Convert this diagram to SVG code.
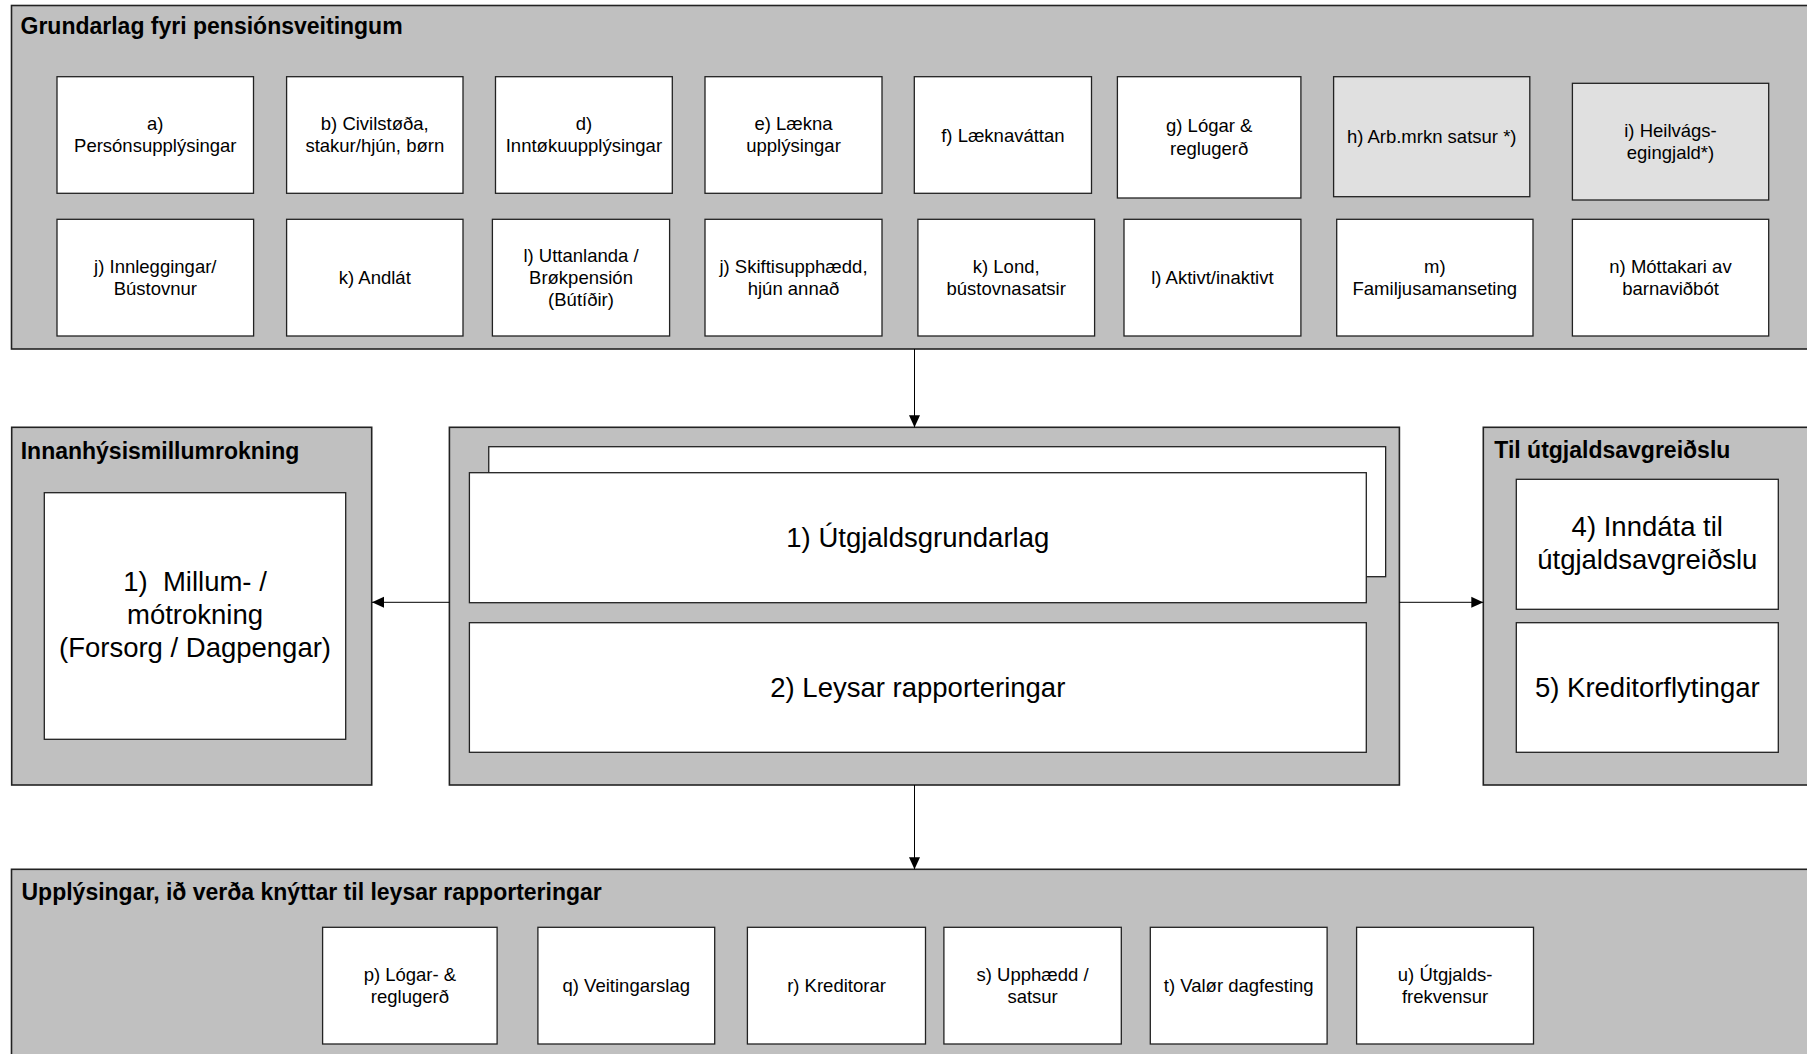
<svg xmlns="http://www.w3.org/2000/svg" width="1807" height="1054" viewBox="0 0 1807 1054">
<defs>
<style>
.cont{fill:#c0c0c0;stroke:#222;stroke-width:1.6}
.box{fill:#fff;stroke:#222;stroke-width:1.3}
.gbox{fill:#e0e0e0;stroke:#222;stroke-width:1.3}
.head{font-family:"Liberation Sans",Arial,sans-serif;font-weight:bold;font-size:23px;fill:#000}
.lbl{font-family:"Liberation Sans",Arial,sans-serif;font-size:18.5px;fill:#000;text-anchor:middle}
.big{font-family:"Liberation Sans",Arial,sans-serif;font-size:27.5px;fill:#000;text-anchor:middle}
.conn{stroke:#000;stroke-width:1;fill:none}
</style>
<marker id="arr" viewBox="0 0 12 12" refX="12" refY="6" markerWidth="12" markerHeight="12" markerUnits="userSpaceOnUse" orient="auto">
<path d="M0,0.5 L12,6 L0,11.5 Z" fill="#000"/>
</marker>
</defs>
<rect width="1807" height="1054" fill="#fff"/>

<g id="grundarlag">
<rect class="cont" x="11.5" y="5.5" width="1820" height="343.5"/>
<text class="head" x="20.5" y="34">Grundarlag fyri pensiónsveitingum</text>
</g>
<g id="node-a"><rect class="box" x="57" y="76.7" width="196.5" height="116.6"/><text class="lbl" x="155.3" y="130">a)</text><text class="lbl" x="155.3" y="152.2">Persónsupplýsingar</text></g>
<g id="node-b"><rect class="box" x="286.6" y="76.7" width="176.4" height="116.6"/><text class="lbl" x="374.8" y="130">b) Civilstøða,</text><text class="lbl" x="374.8" y="152.2">stakur/hjún, børn</text></g>
<g id="node-d"><rect class="box" x="495.5" y="76.7" width="176.8" height="116.6"/><text class="lbl" x="583.9" y="130">d)</text><text class="lbl" x="583.9" y="152.2">Inntøkuupplýsingar</text></g>
<g id="node-e"><rect class="box" x="705" y="76.7" width="177" height="116.6"/><text class="lbl" x="793.5" y="130">e) Lækna</text><text class="lbl" x="793.5" y="152.2">upplýsingar</text></g>
<g id="node-f"><rect class="box" x="914.3" y="76.7" width="177.2" height="116.6"/><text class="lbl" x="1002.9" y="141.6">f) Læknaváttan</text></g>
<g id="node-g"><rect class="box" x="1117.4" y="76.7" width="183.5" height="121.3"/><text class="lbl" x="1209.2" y="132.3">g) Lógar &amp;</text><text class="lbl" x="1209.2" y="154.5">reglugerð</text></g>
<g id="node-h"><rect class="gbox" x="1333.6" y="76.7" width="196.2" height="120"/><text class="lbl" x="1431.7" y="143.3">h) Arb.mrkn satsur *)</text></g>
<g id="node-i"><rect class="gbox" x="1572.4" y="83.3" width="196.3" height="116.7"/><text class="lbl" x="1670.5" y="136.7">i) Heilvágs-</text><text class="lbl" x="1670.5" y="158.9">egingjald*)</text></g>

<g id="node-j1"><rect class="box" x="57" y="219.3" width="196.6" height="116.7"/><text class="lbl" x="155.3" y="272.7">j) Innleggingar/</text><text class="lbl" x="155.3" y="294.9">Bústovnur</text></g>
<g id="node-k1"><rect class="box" x="286.6" y="219.3" width="176.4" height="116.7"/><text class="lbl" x="374.8" y="284.3">k) Andlát</text></g>
<g id="node-l1"><rect class="box" x="492.4" y="219.3" width="177.2" height="116.7"/><text class="lbl" x="581" y="261.9">l) Uttanlanda /</text><text class="lbl" x="581" y="283.9">Brøkpensión</text><text class="lbl" x="581" y="305.9">(Bútíðir)</text></g>
<g id="node-j2"><rect class="box" x="705" y="219.3" width="177" height="116.7"/><text class="lbl" x="793.5" y="272.7">j) Skiftisupphædd,</text><text class="lbl" x="793.5" y="294.9">hjún annað</text></g>
<g id="node-k2"><rect class="box" x="917.9" y="219.3" width="176.7" height="116.7"/><text class="lbl" x="1006.2" y="272.7">k) Lond,</text><text class="lbl" x="1006.2" y="294.9">bústovnasatsir</text></g>
<g id="node-l2"><rect class="box" x="1124" y="219.3" width="176.9" height="116.7"/><text class="lbl" x="1212.4" y="284.3">l) Aktivt/inaktivt</text></g>
<g id="node-m"><rect class="box" x="1336.7" y="219.3" width="196.3" height="116.7"/><text class="lbl" x="1434.8" y="272.7">m)</text><text class="lbl" x="1434.8" y="294.9">Familjusamanseting</text></g>
<g id="node-n"><rect class="box" x="1572.4" y="219.3" width="196.3" height="116.7"/><text class="lbl" x="1670.5" y="272.7">n) Móttakari av</text><text class="lbl" x="1670.5" y="294.9">barnaviðbót</text></g>

<g id="innanhysis">
<rect class="cont" x="11.7" y="427.3" width="360" height="357.7"/>
<text class="head" x="20.7" y="458.5">Innanhýsismillumrokning</text>
</g>
<g id="node-millum"><rect class="box" x="44.3" y="492.7" width="301.4" height="246.6"/>
<text class="big" x="195" y="591" xml:space="preserve">1)  Millum- /</text><text class="big" x="195" y="624">mótrokning</text><text class="big" x="195" y="657">(Forsorg / Dagpengar)</text></g>

<g id="mid">
<rect class="cont" x="449.4" y="427.3" width="950" height="357.7"/>
</g>
<g id="node-utgjaldsgrundarlag">
<rect class="box" x="488.75" y="446.7" width="896.9" height="130"/>
<rect class="box" x="469.4" y="472.7" width="896.9" height="130"/>
<text class="big" x="917.8" y="547">1) Útgjaldsgrundarlag</text>
</g>
<g id="node-leysar"><rect class="box" x="469.4" y="622.7" width="896.9" height="129.6"/><text class="big" x="917.8" y="696.5">2) Leysar rapporteringar</text></g>

<g id="til">
<rect class="cont" x="1483.3" y="427.3" width="340" height="357.7"/>
<text class="head" x="1494.3" y="457.5">Til útgjaldsavgreiðslu</text>
</g>
<g id="node-inndata"><rect class="box" x="1516.3" y="479.3" width="262" height="130"/><text class="big" x="1647.3" y="536">4) Inndáta til</text><text class="big" x="1647.3" y="569">útgjaldsavgreiðslu</text></g>
<g id="node-kreditor"><rect class="box" x="1516.3" y="622.7" width="262" height="129.6"/><text class="big" x="1647.3" y="696.5">5) Kreditorflytingar</text></g>

<g id="upplysingar">
<rect class="cont" x="11.5" y="869.3" width="1820" height="200"/>
<text class="head" x="21.5" y="899.5">Upplýsingar, ið verða knýttar til leysar rapporteringar</text>
</g>
<g id="node-p"><rect class="box" x="322.6" y="927.3" width="174.5" height="116.7"/><text class="lbl" x="409.9" y="981">p) Lógar- &amp;</text><text class="lbl" x="409.9" y="1003.2">reglugerð</text></g>
<g id="node-q"><rect class="box" x="537.9" y="927.3" width="176.8" height="116.7"/><text class="lbl" x="626.3" y="992.3">q) Veitingarslag</text></g>
<g id="node-r"><rect class="box" x="747.4" y="927.3" width="178.1" height="116.7"/><text class="lbl" x="836.5" y="992.3">r) Kreditorar</text></g>
<g id="node-s"><rect class="box" x="943.9" y="927.3" width="177.4" height="116.7"/><text class="lbl" x="1032.6" y="981">s) Upphædd /</text><text class="lbl" x="1032.6" y="1003.2">satsur</text></g>
<g id="node-t"><rect class="box" x="1150.3" y="927.3" width="176.8" height="116.7"/><text class="lbl" x="1238.7" y="992.3">t) Valør dagfesting</text></g>
<g id="node-u"><rect class="box" x="1356.6" y="927.3" width="176.9" height="116.7"/><text class="lbl" x="1445.1" y="981">u) Útgjalds-</text><text class="lbl" x="1445.1" y="1003.2">frekvensur</text></g>

<g id="connectors">
<line class="conn" x1="914.5" y1="349" x2="914.5" y2="427.3" marker-end="url(#arr)"/>
<line class="conn" x1="449.4" y1="602.3" x2="372" y2="602.3" marker-end="url(#arr)"/>
<line class="conn" x1="1399.4" y1="602.3" x2="1483.3" y2="602.3" marker-end="url(#arr)"/>
<line class="conn" x1="914.5" y1="785" x2="914.5" y2="869.3" marker-end="url(#arr)"/>
</g>
</svg>
